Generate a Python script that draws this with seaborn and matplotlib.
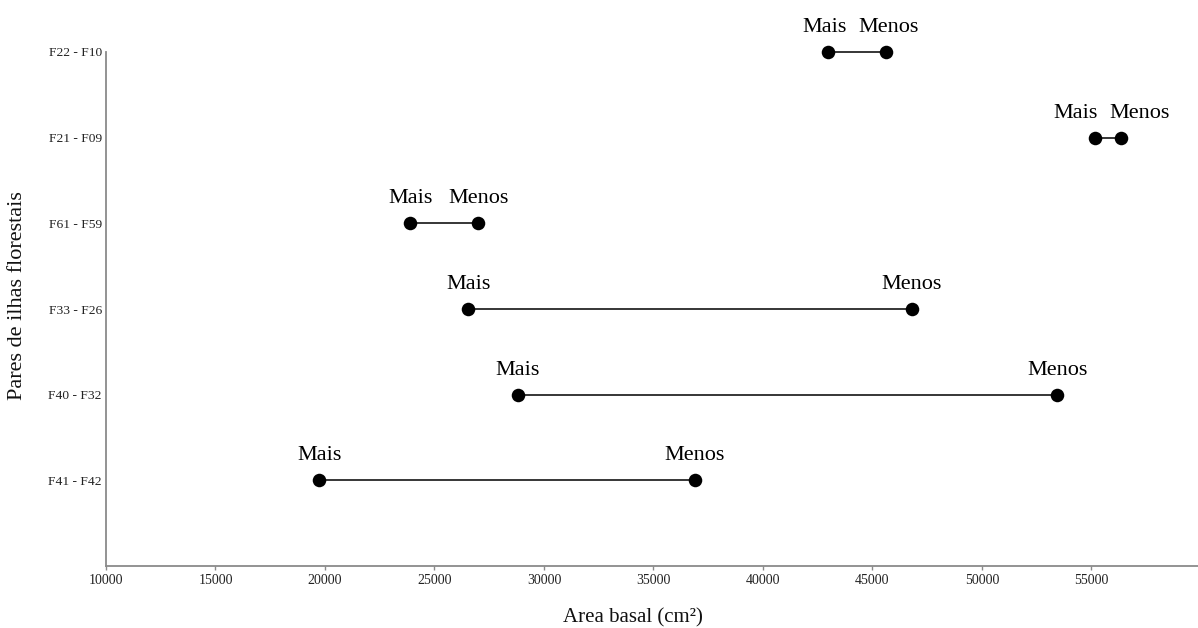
import matplotlib
matplotlib.use("Agg")
import matplotlib.pyplot as plt
import seaborn as sns
import pandas as pd

pairs = ["F22 - F10", "F21 - F09", "F61 - F59", "F33 - F26", "F40 - F32", "F41 - F42"]
mais = [42950, 55150, 23900, 26550, 28800, 19750]
menos = [45600, 56350, 27000, 46800, 53450, 36900]
point_labels = ["Mais", "Menos"]
x_ticks = [10000, 15000, 20000, 25000, 30000, 35000, 40000, 45000, 50000, 55000]

sns.set_theme(style="white")
plt.rcParams["font.family"] = ["Liberation Serif", "DejaVu Serif"]

rows = []
for p, a, b in zip(pairs, mais, menos):
    rows.append({"pair": p, "tipo": point_labels[0], "area": a})
    rows.append({"pair": p, "tipo": point_labels[1], "area": b})
df = pd.DataFrame(rows)

W, H = 1198, 628
fig = plt.figure(figsize=(W / 100, H / 100), dpi=100)
ax = fig.add_axes([106 / W, (H - 566) / H, (W - 106) / W, (566 - 52) / H])

sns.lineplot(data=df, x="area", y="pair", units="pair", estimator=None, sort=False,
             color="black", linewidth=1.1, ax=ax, orient="y", legend=False)
sns.scatterplot(data=df, x="area", y="pair", color="black", s=95, edgecolor="black",
                linewidth=0, ax=ax, legend=False, zorder=3)
for c in ax.collections:
    c.set_clip_on(False)
for l in ax.lines:
    l.set_clip_on(False)

ax.set_xlim(10000, 59870)
ax.set_ylim(len(pairs), 0)
ax.set_xticks(x_ticks)
ax.set_xticklabels([str(t) for t in x_ticks])
ax.set_yticks(range(len(pairs)))
ax.set_yticklabels(pairs)

# labels above the points, pushed apart when they would collide
fig.canvas.draw()
renderer = fig.canvas.get_renderer()
min_gap = 12  # px
for p, a, b in zip(pairs, mais, menos):
    ta = ax.annotate(point_labels[0], xy=(a, p), xytext=(0, 14.5),
                     textcoords="offset points", ha="center", va="baseline",
                     fontsize=16, color="black", annotation_clip=False)
    tb = ax.annotate(point_labels[1], xy=(b, p), xytext=(0, 14.5),
                     textcoords="offset points", ha="center", va="baseline",
                     fontsize=16, color="black", annotation_clip=False)
    ea = ta.get_window_extent(renderer)
    eb = tb.get_window_extent(renderer)
    gap = eb.x0 - ea.x1
    if gap < min_gap:
        shift_px = (min_gap - gap) / 2
        shift_pt = shift_px * 72 / fig.dpi
        ta.xyann = (-shift_pt, 14.5)
        tb.xyann = (shift_pt, 14.5)

for s in ["top", "right"]:
    ax.spines[s].set_visible(False)
for s in ["left", "bottom"]:
    ax.spines[s].set_color("#8a8a8a")
    ax.spines[s].set_linewidth(1.3)

ax.tick_params(axis="x", length=3, width=1, color="#8a8a8a", pad=3,
               labelsize=10, labelcolor="#222222", bottom=True)
ax.tick_params(axis="y", length=0, pad=3, labelsize=9.7, labelcolor="#222222")

ax.set_xlabel("Area basal (cm²)", fontsize=15, color="#111111")
ax.set_ylabel("Pares de ilhas florestais", fontsize=16, color="#111111")
ax.xaxis.set_label_coords((633 - 106) / (W - 106), -(618 - 566) / (566 - 52))
ax.yaxis.set_label_coords((18 - 106) / (W - 106), 1 - (296 - 52) / (566 - 52))
ax.xaxis.label.set_va("center")
ax.yaxis.label.set_va("center")
ax.grid(False)

fig.savefig("out.png", dpi=100)
